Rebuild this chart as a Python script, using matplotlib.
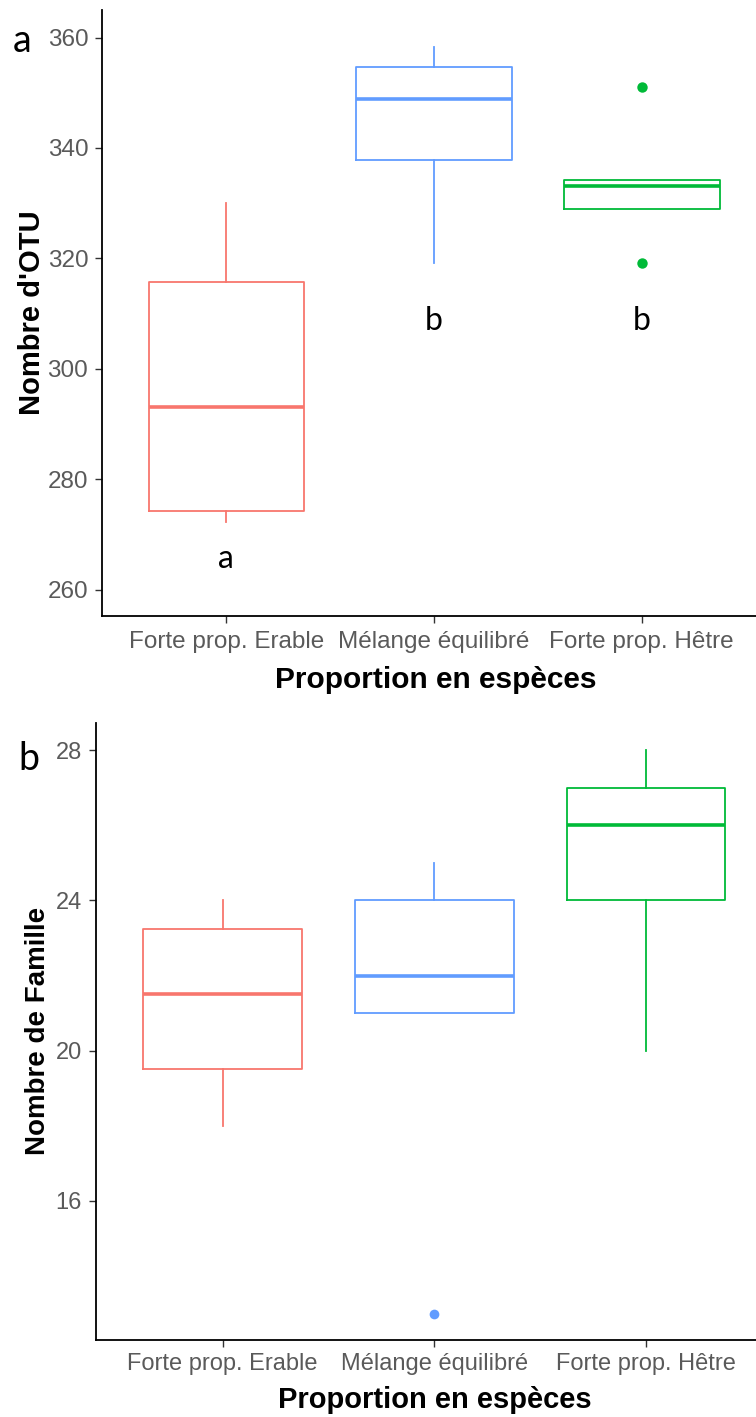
import matplotlib.pyplot as plt

plt.rcParams['font.family'] = ['Liberation Sans', 'DejaVu Sans']

categories = ['Forte prop. Erable', 'Mélange équilibré', 'Forte prop. Hêtre']
colors = ['#F8766D', '#619CFF', '#00BA38']

# panel a : nombre d'OTU
otu_whislo = [272.2, 319.2, 329.0]
otu_q1 = [274.3, 337.8, 329.0]
otu_med = [293.0, 348.8, 333.1]
otu_q3 = [315.8, 354.6, 334.2]
otu_whishi = [330.0, 358.3, 334.2]
otu_fliers = [[], [], [351.0, 319.1]]
otu_letters = ['a', 'b', 'b']
otu_letter_y = [263.9, 307.0, 307.0]

# panel b : nombre de familles
fam_whislo = [18, 21, 20]
fam_q1 = [19.5, 21, 24]
fam_med = [21.5, 22, 26]
fam_q3 = [23.25, 24, 27]
fam_whishi = [24, 25, 28]
fam_fliers = [[], [13], []]

W, H = 756, 1417
fig = plt.figure(figsize=(W / 100, H / 100), dpi=100)


def px_rect(left, right, top, bottom):
    return [left / W, 1 - bottom / H, (right - left) / W, (bottom - top) / H]


def draw_boxes(ax, whislo, q1, med, q3, whishi, fliers, msize):
    stats = []
    for i in range(len(categories)):
        stats.append(dict(whislo=whislo[i], q1=q1[i], med=med[i], q3=q3[i],
                          whishi=whishi[i], fliers=fliers[i]))
    art = ax.bxp(stats, positions=[1, 2, 3], widths=0.75, showcaps=False,
                 boxprops=dict(linewidth=1.3), whiskerprops=dict(linewidth=1.3),
                 medianprops=dict(linewidth=2.6),
                 flierprops=dict(marker='o', markersize=msize, markeredgewidth=0))
    for i, c in enumerate(colors):
        art['boxes'][i].set_color(c)
        art['medians'][i].set_color(c)
        art['whiskers'][2 * i].set_color(c)
        art['whiskers'][2 * i + 1].set_color(c)
        art['fliers'][i].set_markerfacecolor(c)


def style(ax, tick_size, xpad):
    ax.spines['top'].set_visible(False)
    ax.spines['right'].set_visible(False)
    ax.spines['left'].set_linewidth(1.3)
    ax.spines['bottom'].set_linewidth(1.3)
    ax.set_xlim(0.4, 3.6)
    ax.set_xticks([1, 2, 3])
    ax.set_xticklabels(categories)
    ax.tick_params(axis='both', direction='out', length=4.8, width=1.0,
                   color='#333333', labelcolor='#5A5A5A', labelsize=tick_size)
    ax.tick_params(axis='x', pad=xpad)
    ax.tick_params(axis='y', pad=5)


# ---- panel a
ax1 = fig.add_axes(px_rect(101.8, 766.4, 10, 616))
draw_boxes(ax1, otu_whislo, otu_q1, otu_med, otu_q3, otu_whishi, otu_fliers, 7.5)
style(ax1, 17.5, 6.0)
ax1.set_ylim(255.2, 365.0)
ax1.set_yticks([260, 280, 300, 320, 340, 360])
ax1.set_ylabel("Nombre d'OTU", fontsize=21, fontweight='bold', va='center')
ax1.yaxis.set_label_coords(-0.105, 0.5)
ax1.set_xlabel('Proportion en espèces', fontsize=21.5, fontweight='bold', va='center')
ax1.xaxis.set_label_coords(0.502, -0.1056)
for i, t in enumerate(otu_letters):
    ax1.text(i + 1, otu_letter_y[i], t, ha='center', va='baseline',
             fontsize=23, family='Lato')

# ---- panel b
ax2 = fig.add_axes(px_rect(95.5, 772.9, 722.7, 1340))
draw_boxes(ax2, fam_whislo, fam_q1, fam_med, fam_q3, fam_whishi, fam_fliers, 7)
style(ax2, 17, 4.8)
ax2.set_ylim(12.3, 28.73)
ax2.set_yticks([16, 20, 24, 28])
ax2.set_ylabel('Nombre de Famille', fontsize=20, fontweight='bold', va='center')
ax2.yaxis.set_label_coords(-0.085, 0.5)
ax2.set_xlabel('Proportion en espèces', fontsize=21, fontweight='bold', va='center')
ax2.xaxis.set_label_coords(0.501, -0.0972)

# panel letters
fig.text(22 / W, 1 - 52 / H, 'a', ha='center', va='baseline', fontsize=27, family='Lato')
fig.text(28.5 / W, 1 - 770 / H, 'b', ha='center', va='baseline', fontsize=27, family='Lato')

fig.savefig('out.png', dpi=100)
